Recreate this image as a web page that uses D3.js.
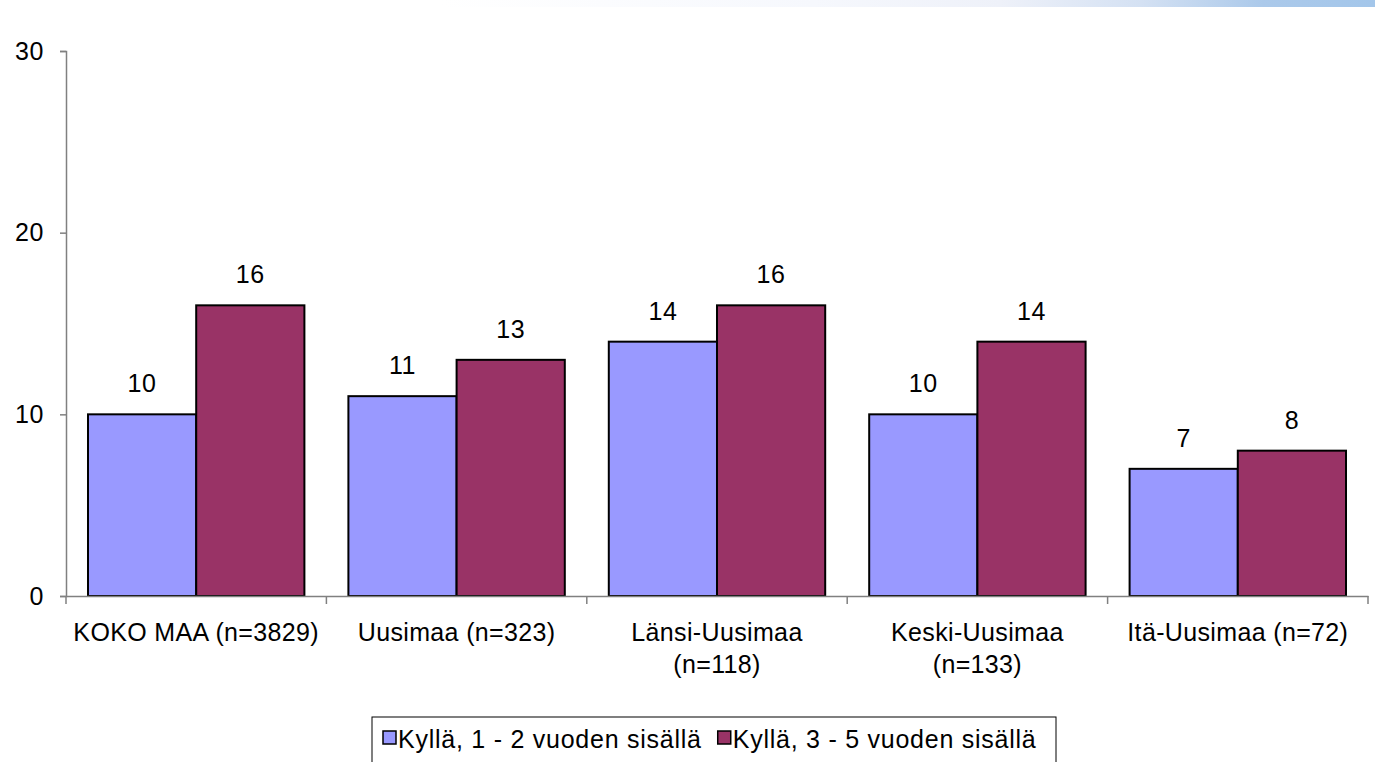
<!DOCTYPE html>
<html><head><meta charset="utf-8">
<script src="https://cdn.jsdelivr.net/npm/d3@7"></script>
<style>
html,body{margin:0;padding:0;background:#fff;}
svg{display:block;font-family:Arial,"Liberation Sans",sans-serif;}
</style></head>
<body><svg id="c" width="1375" height="762"></svg>
<script>
const categories = ["KOKO MAA (n=3829)", "Uusimaa (n=323)", "Länsi-Uusimaa (n=118)", "Keski-Uusimaa (n=133)", "Itä-Uusimaa (n=72)"];
const seriesNames = ["Kyllä, 1 - 2 vuoden sisällä", "Kyllä, 3 - 5 vuoden sisällä"];
const series1 = [10, 11, 14, 10, 7];
const series2 = [16, 13, 16, 14, 8];
const yTicks = [0, 10, 20, 30];
const colors = ["#9999ff", "#993366"];

const svg = d3.select("#c");
const W = 1375, H = 762;
const FS = 25;

// top gradient band
const defs = svg.append("defs");
const g = defs.append("linearGradient").attr("id","topg").attr("x1","0").attr("x2","1").attr("y1","0").attr("y2","0");
[[0,"#ffffff"],[0.4,"#f6f8fd"],[0.6,"#eef1f9"],[0.75,"#d4e1f3"],[0.88,"#abc9ea"],[1,"#a3c6ea"]].forEach(s=>g.append("stop").attr("offset",s[0]).attr("stop-color",s[1]));
svg.append("rect").attr("x",440).attr("y",0).attr("width",W-440).attr("height",7).attr("fill","url(#topg)");

const x0 = 66, x1 = 1368, yTop = 51, yBot = 596;
const x = d3.scaleBand().domain(categories).range([x0, x1]).paddingInner(0).paddingOuter(0);
const xs = d3.scaleBand().domain(seriesNames).range([22, x.bandwidth() - 22]).padding(0);
const y = d3.scaleLinear().domain([0, 30]).range([yBot, yTop]);

// Y axis
const yAxis = svg.append("g").attr("transform",`translate(${x0},0)`)
  .call(d3.axisLeft(y).tickValues(yTicks).tickSize(6).tickPadding(16).tickFormat(d3.format("d")));
yAxis.select(".domain").attr("stroke","#808080").attr("stroke-width",1.5);
yAxis.selectAll(".tick line").attr("stroke","#808080").attr("stroke-width",1.5);
yAxis.selectAll("text").attr("font-size",FS).attr("fill","#000").attr("letter-spacing",0.6).attr("font-family","Arial, 'Liberation Sans', sans-serif");

// bars
const data = categories.map((c,i)=>({c, vals:[series1[i], series2[i]]}));
const grp = svg.append("g").selectAll("g").data(data).join("g").attr("transform",d=>`translate(${x(d.c)},0)`);
grp.selectAll("rect").data(d=>d.vals.map((v,j)=>({v,s:seriesNames[j],j}))).join("rect")
  .attr("x",d=>xs(d.s)).attr("y",d=>y(d.v)).attr("width",xs.bandwidth()).attr("height",d=>y(0)-y(d.v))
  .attr("fill",d=>colors[d.j]).attr("stroke","#000").attr("stroke-width",2);
grp.selectAll("text.v").data(d=>d.vals.map((v,j)=>({v,s:seriesNames[j],j}))).join("text").attr("class","v")
  .attr("x",d=>xs(d.s)+xs.bandwidth()/2).attr("y",d=>y(d.v)-22).attr("text-anchor","middle")
  .attr("font-size",FS).attr("letter-spacing",0.6).attr("fill","#000").text(d=>d.v);

// X axis
const xAxis = svg.append("g").attr("transform",`translate(0,${yBot})`)
  .call(d3.axisBottom(x).tickSize(0).tickFormat(""));
xAxis.select(".domain").attr("stroke","#808080").attr("stroke-width",1.5);
xAxis.selectAll(".tick").remove();
const edges = d3.range(categories.length+1).map(i=> i<categories.length ? x(categories[i]) : x1);
xAxis.selectAll("line.t").data(edges).join("line").attr("class","t")
  .attr("x1",d=>d).attr("x2",d=>d).attr("y1",0).attr("y2",8).attr("stroke","#808080").attr("stroke-width",1.5);

// category labels with wrapping
const maxW = 250;
categories.forEach(c=>{
  const cx = x(c) + x.bandwidth()/2;
  const t = svg.append("text").attr("x",cx).attr("y",641).attr("text-anchor","middle").attr("font-size",FS).attr("letter-spacing",0.35).attr("fill","#000");
  const words = c.split(" ");
  let line = [], lineNo = 0;
  let ts = t.append("tspan").attr("x",cx).attr("y",641);
  words.forEach(w=>{
    line.push(w);
    ts.text(line.join(" "));
    if (ts.node().getComputedTextLength() > maxW && line.length>1) {
      line.pop(); ts.text(line.join(" "));
      line = [w]; lineNo++;
      ts = t.append("tspan").attr("x",cx).attr("y",641 + lineNo*32).text(w);
    }
  });
});

// legend
const lg = svg.append("g");
lg.append("rect").attr("x",372).attr("y",717).attr("width",684).attr("height",60).attr("fill","#fff").attr("stroke","#000").attr("stroke-width",1);
let lx = 383;
seriesNames.forEach((s,i)=>{
  lg.append("rect").attr("x",lx).attr("y",731).attr("width",13).attr("height",13).attr("fill",colors[i]).attr("stroke","#000").attr("stroke-width",1.5);
  const t = lg.append("text").attr("x",lx+15).attr("y",748).attr("font-size",FS).attr("letter-spacing",0.75).attr("fill","#000").text(s);
  lx += 15 + t.node().getComputedTextLength() + 16;
});
</script></body></html>
